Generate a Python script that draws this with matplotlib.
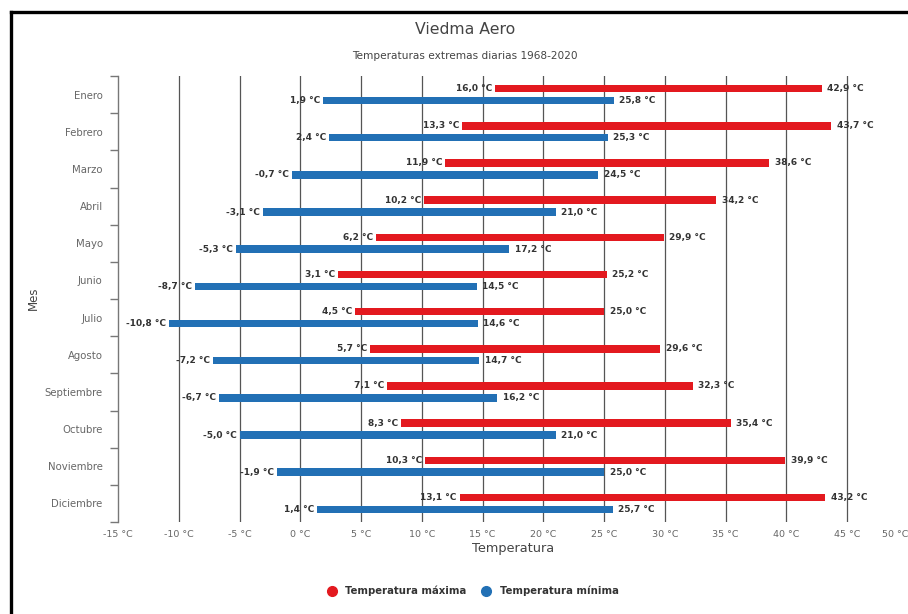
"""
Viedma Aero - temperaturas extremas diarias 1968-2020.
Barras flotantes horizontales: rango de la máxima y de la mínima por mes.
"""

import matplotlib
matplotlib.use("Agg")
import matplotlib.pyplot as plt
from matplotlib.lines import Line2D
import numpy as np

plt.rcParams['font.family'] = ['DejaVu Sans']

# Datos
meses = ['Enero', 'Febrero', 'Marzo', 'Abril', 'Mayo', 'Junio', 'Julio',
         'Agosto', 'Septiembre', 'Octubre', 'Noviembre', 'Diciembre']
max_desde = [16.0, 13.3, 11.9, 10.2, 6.2, 3.1, 4.5, 5.7, 7.1, 8.3, 10.3, 13.1]
max_hasta = [42.9, 43.7, 38.6, 34.2, 29.9, 25.2, 25.0, 29.6, 32.3, 35.4, 39.9, 43.2]
min_desde = [1.9, 2.4, -0.7, -3.1, -5.3, -8.7, -10.8, -7.2, -6.7, -5.0, -1.9, 1.4]
min_hasta = [25.8, 25.3, 24.5, 21.0, 17.2, 14.5, 14.6, 14.7, 16.2, 21.0, 25.0, 25.7]
xticks = list(range(-15, 55, 5))

ROJO = '#e3191f'
AZUL = '#2270b5'
TEXTO = '#333333'


def fmt(v):
    return f"{v:.1f} °C".replace('.', ',')


W, H = 908, 614
fig = plt.figure(figsize=(W / 100, H / 100), dpi=100)
ax = fig.add_axes([118 / W, 1 - 522 / H, (908 - 118) / W, (522 - 76) / H])

y = np.arange(len(meses))
alto = 0.2
off = 0.16

# Barras flotantes
ax.barh(y - off, np.array(max_hasta) - np.array(max_desde), left=max_desde,
        height=alto, color=ROJO, zorder=3)
ax.barh(y + off, np.array(min_hasta) - np.array(min_desde), left=min_desde,
        height=alto, color=AZUL, zorder=3)

# Etiquetas de valores
for i in range(len(meses)):
    for yy, a, b in ((y[i] - off, max_desde[i], max_hasta[i]),
                     (y[i] + off, min_desde[i], min_hasta[i])):
        ax.annotate(fmt(a), (a, yy), xytext=(-2, 0), textcoords='offset points',
                    ha='right', va='center', fontsize=6.5, fontweight='bold',
                    color=TEXTO, zorder=4)
        ax.annotate(fmt(b), (b, yy), xytext=(4, 0), textcoords='offset points',
                    ha='left', va='center', fontsize=6.5, fontweight='bold',
                    color=TEXTO, zorder=4)

# Ejes
ax.set_xlim(-15, 50)
ax.set_ylim(len(meses) - 0.5, -0.5)
ax.set_xticks(xticks)
ax.set_xticklabels([f"{t} °C" for t in xticks], fontsize=6.8, color='#666666')
ax.get_xticklabels()[-1].set_horizontalalignment('right')
ax.set_yticks(y)
ax.set_yticklabels(meses, fontsize=7.3, color='#666666')
ax.set_yticks(np.arange(len(meses) + 1) - 0.5, minor=True)
ax.tick_params(axis='y', which='major', length=0, pad=11)
ax.tick_params(axis='y', which='minor', length=6, width=1, color='#777777')
ax.tick_params(axis='x', length=0, pad=6)

for s in ('top', 'right', 'bottom'):
    ax.spines[s].set_visible(False)
ax.spines['left'].set_color('#777777')
ax.spines['left'].set_linewidth(1)

for t in xticks[1:-1]:
    ax.axvline(t, color='#555555', linewidth=0.9, zorder=1)

ax.set_xlabel('Temperatura', fontsize=9.3, color='#444444', labelpad=2)
fig.text(33 / W, 1 - 298 / H, 'Mes', rotation=90, ha='center', va='center',
         fontsize=8.5, color='#444444')

# Títulos
fig.text(465 / W, 1 - 30 / H, 'Viedma Aero', ha='center', va='center',
         fontsize=11.3, color='#444444')
fig.text(465 / W, 1 - 56 / H, 'Temperaturas extremas diarias 1968-2020',
         ha='center', va='center', fontsize=7.6, color='#444444')

# Leyenda
handles = [
    Line2D([], [], marker='o', linestyle='none', markersize=7, color=ROJO),
    Line2D([], [], marker='o', linestyle='none', markersize=7, color=AZUL),
]
fig.legend(handles, ['Temperatura máxima', 'Temperatura mínima'],
           loc='center', bbox_to_anchor=(470 / W, 1 - 591 / H), ncol=2,
           frameon=False, handletextpad=0.3, columnspacing=1.0,
           prop={'size': 7.3, 'weight': 'bold'}, labelcolor=TEXTO)

# Marco negro (superior e izquierdo)
fig.add_artist(Line2D([11 / W, 1], [1 - 12 / H, 1 - 12 / H], color='black',
                      linewidth=2.4, transform=fig.transFigure))
fig.add_artist(Line2D([11 / W, 11 / W], [0, 1 - 12 / H], color='black',
                      linewidth=2.4, transform=fig.transFigure))

fig.savefig('out.png', dpi=100)
plt.close(fig)
